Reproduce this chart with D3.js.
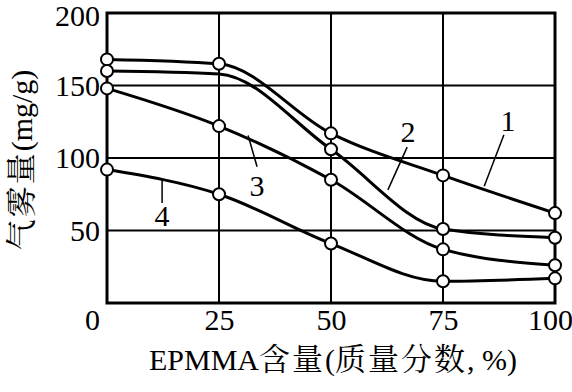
<!DOCTYPE html>
<html>
<head>
<meta charset="utf-8">
<script src="https://cdn.jsdelivr.net/npm/d3@7"></script>
<style>
  body { margin: 0; background: #fff; }
</style>
</head>
<body>
<svg id="chart" width="572" height="392"></svg>
<script>
// EPMMA content (mass fraction, %)
const xValues = [0, 25, 50, 75, 100];
const xTicks = [0, 25, 50, 75, 100];
const yTicks = [50, 100, 150, 200];

// aerosol amount (mg/g) per curve
const series1 = [168, 165, 117, 88, 62];
const series2 = [160, 158, 106, 51, 45];
const series3 = [148, 122, 85, 37, 26];
const series4 = [92, 75, 41, 15, 17];
const seriesNames = ["1", "2", "3", "4"];
// which points carry a circle marker (curve 2 hides under curve 1 at 25)
const markers2 = [true, false, true, true, true];

// curve labels: [label x, label y, leader start x, y, leader end x, y] in data units
const labelPos = [
    [89.5, 126, 84.2, 80.5, 88.6, 116],
    [67.2, 118, 62.7, 78, 67, 107.5],
    [33.5, 81, 31.5, 115.5, 33.5, 94],
    [12.3, 60.5, 12.3, 86, 12.3, 69]
];

// axis titles, split into latin / CJK runs
const xTitle = [["EPMMA", 0], ["含量", 1], ["(", 0], ["质量分数", 1], [", %)", 0]];
const yTitle = [["气雾量", 1], ["(mg/g)", 0]];

const latin = "Liberation Serif";
const cjk = "Noto Serif CJK SC";

const margin = { top: 13, right: 17, bottom: 89, left: 107 },
    width = 572 - margin.left - margin.right,
    height = 392 - margin.top - margin.bottom;

const svg = d3.select("#chart")
    .append("g")
    .attr("transform", "translate(" + margin.left + "," + margin.top + ")");

const x = d3.scaleLinear().domain([0, 100]).range([0, width]);
const y = d3.scaleLinear().domain([0, 200]).range([height, 0]);

// grid
svg.selectAll(".vgrid")
    .data(xTicks.slice(1, -1))
    .enter().append("line")
    .attr("x1", d => x(d)).attr("x2", d => x(d))
    .attr("y1", 0).attr("y2", height)
    .attr("stroke", "#000").attr("stroke-width", 2);

svg.selectAll(".hgrid")
    .data(yTicks.slice(0, -1))
    .enter().append("line")
    .attr("x1", 0).attr("x2", width)
    .attr("y1", d => y(d)).attr("y2", d => y(d))
    .attr("stroke", "#000").attr("stroke-width", 2);

svg.append("rect")
    .attr("width", width).attr("height", height)
    .attr("fill", "none").attr("stroke", "#000").attr("stroke-width", 3);

// tick labels
const xAxis = svg.append("g")
    .attr("transform", "translate(0," + height + ")")
    .call(d3.axisBottom(x).tickValues(xTicks).tickSize(0).tickPadding(6));
xAxis.select(".domain").remove();
xAxis.selectAll("text")
    .style("font-family", latin)
    .style("font-size", "30px")
    .attr("dx", d => d === 0 ? -15 : (d === 100 ? -5 : 0));

const yAxis = svg.append("g")
    .call(d3.axisLeft(y).tickValues(yTicks).tickSize(0).tickPadding(7));
yAxis.select(".domain").remove();
yAxis.selectAll("text")
    .style("font-family", latin)
    .style("font-size", "30px")
    .attr("dy", d => d === 200 ? "0.42em" : "0.32em");

function addRuns(sel, runs) {
    runs.forEach(r => {
        sel.append("tspan")
            .style("font-family", r[1] ? cjk : latin)
            .style("font-size", r[1] ? "31px" : "30px")
            .attr("letter-spacing", r[1] ? 2 : 0)
            .text(r[0]);
    });
}

const xt = svg.append("text")
    .attr("x", width / 2 + 2)
    .attr("y", height + 67)
    .attr("text-anchor", "middle")
    .attr("fill", "#000");
addRuns(xt, xTitle);

const yt = svg.append("text")
    .attr("transform", "translate(" + (-75) + "," + (height / 2 + 2) + ") rotate(-90)")
    .attr("text-anchor", "middle")
    .attr("fill", "#000");
addRuns(yt, yTitle);

// curves
const allSeries = [series1, series2, series3, series4];
const line = d3.line()
    .x((d, i) => x(xValues[i]))
    .y(d => y(d))
    .curve(d3.curveMonotoneX);

svg.selectAll(".curve")
    .data(allSeries)
    .enter().append("path")
    .attr("d", d => line(d))
    .attr("fill", "none")
    .attr("stroke", "#000")
    .attr("stroke-width", 3);

allSeries.forEach((s, k) => {
    svg.selectAll(".pt" + k)
        .data(s.map((v, i) => ({ x: xValues[i], v: v, show: k === 1 ? markers2[i] : true })).filter(d => d.show))
        .enter().append("circle")
        .attr("cx", d => x(d.x))
        .attr("cy", d => y(d.v))
        .attr("r", 6)
        .attr("fill", "#fff")
        .attr("stroke", "#000")
        .attr("stroke-width", 2);
});

// curve numbers with leader lines
labelPos.forEach((p, k) => {
    svg.append("line")
        .attr("x1", x(p[2])).attr("y1", y(p[3]))
        .attr("x2", x(p[4])).attr("y2", y(p[5]))
        .attr("stroke", "#000").attr("stroke-width", 1.5);
    svg.append("text")
        .attr("x", x(p[0]))
        .attr("y", y(p[1]))
        .attr("dy", "0.35em")
        .attr("text-anchor", "middle")
        .style("font-family", latin)
        .style("font-size", "30px")
        .text(seriesNames[k]);
});
</script>
</body>
</html>
